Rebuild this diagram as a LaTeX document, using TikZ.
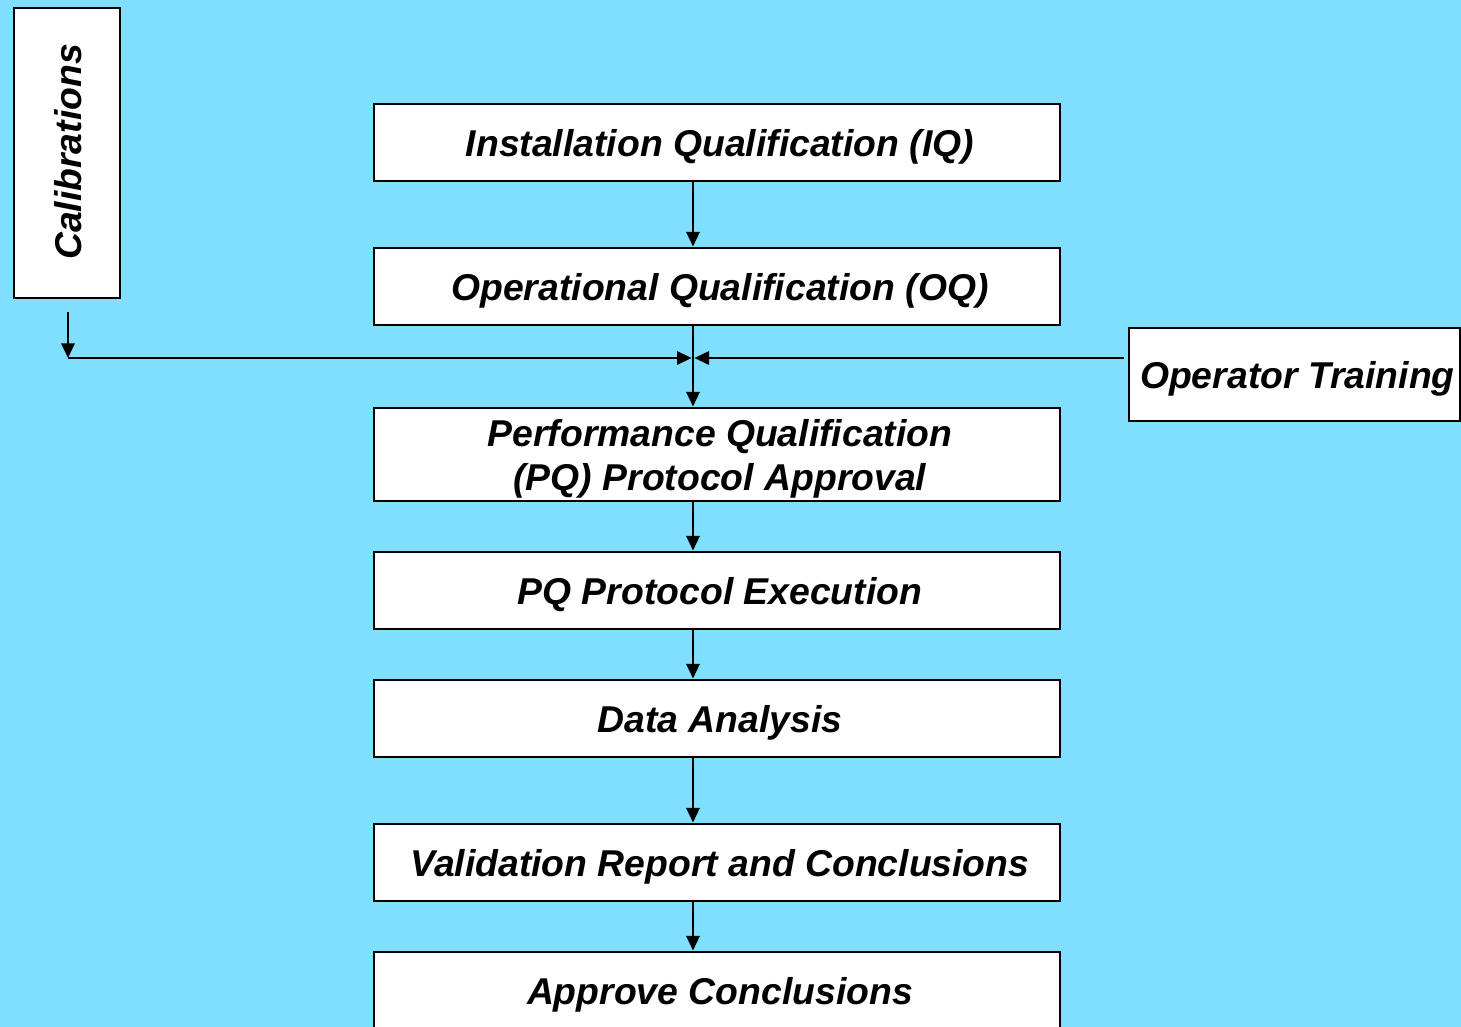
\documentclass[tikz,border=0pt]{standalone}
\usepackage{fontspec}
\setmainfont{Liberation Sans}
\usetikzlibrary{arrows.meta}
\definecolor{skybg}{HTML}{80DEFF}
\tikzset{
  boxfont/.style={font=\fontsize{28}{33}\selectfont\bfseries\itshape, align=center, inner sep=0pt},
  boxtext/.style={boxfont, xshift=2.2pt, yshift=-3pt},
  stage/.style={draw=black, line width=2.2pt, fill=white, minimum width=686*0.75pt, minimum height=77*0.75pt, inner sep=0pt},
  sidebox/.style={draw=black, line width=2.2pt, fill=white, inner sep=0pt},
  flow/.style={line width=1.6pt, -{Triangle[length=11pt,width=10pt]}}
}
\begin{document}
\begin{tikzpicture}[x=0.75pt, y=-0.75pt]
  \clip (0,0) rectangle (1461,1027);
  \fill[skybg] (0,0) rectangle (1461,1027);

  % main chain of qualification stages
  \node[stage] (iq)   at (717,142.5) {};
  \node[boxtext] (iqt) at (iq.center) {Installation Qualification (IQ)};
  \node[stage] (oq)   at (717,286.5) {};
  \node[boxtext] (oqt) at (oq.center) {Operational Qualification (OQ)};
  \node[stage, minimum height=93*0.75pt] (pq) at (717,454.5) {};
  \node[boxtext] (pqt) at (pq.center) {Performance Qualification\\(PQ) Protocol Approval};
  \node[stage] (exec) at (717,590.5) {};
  \node[boxtext] (exect) at (exec.center) {PQ Protocol Execution};
  \node[stage] (data) at (717,718.5) {};
  \node[boxtext] (datat) at (data.center) {Data Analysis};
  \node[stage] (rep)  at (717,862.5) {};
  \node[boxtext] (rept) at (rep.center) {Validation Report and Conclusions};
  \node[stage, minimum height=140*0.75pt] (appr) at (717,1022) {};
  \node[boxtext] (apprt) at (717,990.5) {Approve Conclusions};

  % side inputs
  \node[sidebox, minimum width=106*0.75pt, minimum height=290*0.75pt] (cal) at (67,153) {};
  \node[boxfont, rotate=90] (calt) at (68,152) {Calibrations};
  \node[sidebox, minimum width=331*0.75pt, minimum height=93*0.75pt] (op) at (1294.5,374.5) {};
  \node[boxtext] (opt) at (op.center) {Operator Training};

  % junction points
  \coordinate (calstart) at (68,312);
  \coordinate (calcorner) at (68,358);
  \coordinate (join) at (693,358);
  \coordinate (opstart) at (1124,358);

  % vertical flow
  \draw[flow] (iq.south -| join) -- (oq.north -| join);
  \draw[flow] (oq.south -| join) -- (pq.north -| join);
  \draw[flow] (pq.south -| join) -- (exec.north -| join);
  \draw[flow] (exec.south -| join) -- (data.north -| join);
  \draw[flow] (data.south -| join) -- (rep.north -| join);
  \draw[flow] (rep.south -| join) -- (appr.north -| join);

  % side feeds into the junction
  \draw[flow] (calstart) -- (calcorner);
  \draw[flow] (calcorner) -- ([xshift=-1pt]join);
  \draw[flow] (opstart) -- ([xshift=1pt]join);
\end{tikzpicture}
\end{document}
